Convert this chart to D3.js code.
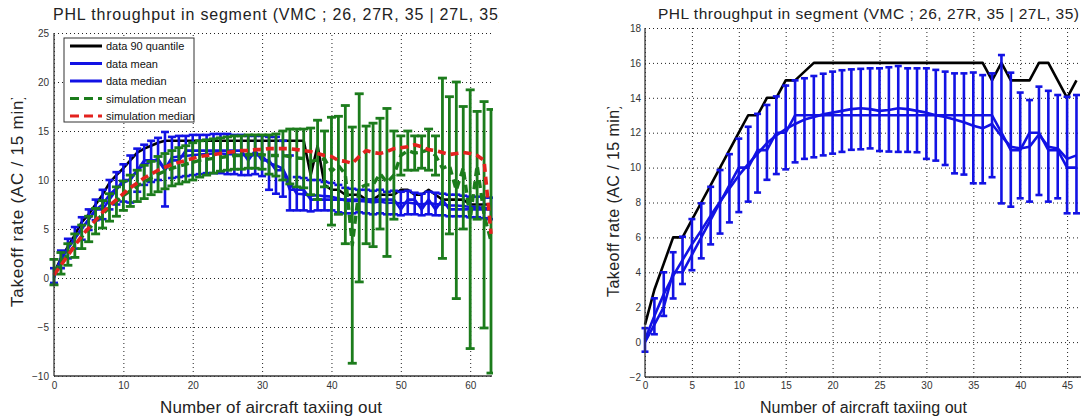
<!DOCTYPE html>
<html>
<head>
<meta charset="utf-8">
<script src="https://cdn.jsdelivr.net/npm/d3@7"></script>
<style>
  body { margin: 0; background: #fff; }
  svg { display: block; }
  text { font-family: "Liberation Sans", Arial, sans-serif; }
</style>
</head>
<body>
<svg id="fig" width="1081" height="419"></svg>
<script>
// ---------- data: left panel (0..63 aircraft taxiing out) ----------
const leftCounts = d3.range(0, 64);
const leftXTicks = [0, 10, 20, 30, 40, 50, 60];
const leftYTicks = [-10, -5, 0, 5, 10, 15, 20, 25];

const leftQ90 = [0.5,2,3.2,4.4,5.7,6.5,7.5,8.5,9.7,10.5,11.2,12,12.8,13.2,13.5,13.8,14,14,14,14,
  14,14,14,14,14,14,14,14,14,14,14,14,14,14,14,14,14,10.5,13.5,9.5,
  9,9,8.5,8.5,8.5,8,8,8.5,8.5,8.5,9,9,8.5,8.5,9,8.5,8,8,8,8,7.5,7.5,7.5,7.5];

const leftDataMean = [0.25,1.9,3.0,4.1,5.05,5.95,6.95,7.5,8.5,9.15,9.7,10.1,11.0,11.55,11.9,12.15,11.1,12.3,12.4,12.45,
  12.55,12.6,12.65,12.7,12.7,12.65,12.6,12.55,12.5,12.55,12.45,11.7,11.5,11.15,9.7,8.6,8.55,8.4,8.45,8.35,
  8.3,8.1,7.9,7.85,7.85,7.8,7.7,7.8,7.65,7.7,7.6,7.7,7.6,7.5,7.65,7.55,7.5,7.4,7.4,7.35,7.25,7.25,7.15,7.1];
const leftDataLow = [-0.5,1.0,2.0,3.0,3.9,4.9,5.9,6.0,7.0,7.5,7.8,7.7,8.8,9.5,9.8,10.0,7.3,10.2,10.3,10.4,
  10.5,10.6,10.7,10.7,10.7,10.6,10.6,10.5,10.5,10.6,10.4,9.0,8.6,8.3,6.9,6.9,6.9,6.8,6.9,6.9,
  6.9,6.7,6.6,6.6,6.7,6.6,6.5,6.6,6.5,6.5,6.4,6.5,6.5,6.4,6.5,6.4,6.4,6.3,6.3,6.3,6.2,6.2,6.1,6.0];
const leftDataHigh = [1.0,2.8,4.0,5.2,6.2,7.0,8.0,9.0,10.0,10.8,11.6,12.5,13.2,13.6,14.0,14.3,14.9,14.4,14.5,14.5,
  14.6,14.6,14.6,14.7,14.7,14.7,14.6,14.6,14.5,14.5,14.5,14.4,14.4,14.0,12.5,10.3,10.2,10.0,10.0,9.8,
  9.7,9.5,9.2,9.1,9.0,9.0,8.9,9.0,8.8,8.9,8.8,8.9,8.7,8.6,8.8,8.7,8.6,8.5,8.5,8.4,8.3,8.3,8.2,8.2];
const leftDataMedian = [0,2,3,4,5,6,7,7,8,9,10,10,11,12,12,12,11,12,12,13,
  13,13,13,13,13,13,13,13,12,13,12,12,11,11,9,9,9,8,8,8,
  8,8,8,8,8,8,8,8,8,8,7,8,8,7,8,7,8,7,7,7,7,7,7,7];

const leftSimMean = [0.6,1.5,2.4,3.3,4.2,5.0,5.8,6.5,7.2,7.8,8.4,8.9,9.4,9.8,10.2,10.6,10.9,11.2,11.4,11.6,
  11.8,12.0,12.1,12.2,12.3,12.4,12.5,12.5,12.6,12.6,12.6,12.5,12.5,12.5,12.4,12.25,12.2,11.9,12.05,12.15,
  10.9,11.5,10.55,3.35,9.2,9.5,9.5,10.65,9.75,10.5,12.5,13.0,12.75,12.85,13.1,12.5,11.2,11.5,8.95,11.25,
  6.0,11.5,6.45,3.75];
const leftSimLow = [-0.7,0.4,1.3,2.1,3.0,3.7,4.5,5.1,5.8,6.3,6.9,7.3,7.8,8.1,8.5,8.8,9.1,9.4,9.6,9.8,
  10.0,10.3,10.5,10.7,10.9,11.0,11.1,11.1,11.2,11.2,11.1,10.6,10.4,10.0,9.6,9.3,9.2,8.5,8.0,9.3,
  5.4,6.5,3.5,-8.7,-0.4,3.5,3.2,5.0,2.2,6.0,10.5,11.0,11.0,11.2,11.0,10.5,2.0,4.5,-2.1,5.0,
  -7.2,6.0,-5.1,-9.7];
const leftSimHigh = [1.9,2.6,3.5,4.5,5.4,6.3,7.1,7.9,8.6,9.3,9.9,10.5,11.0,11.5,11.9,12.4,12.7,13.0,13.3,13.5,
  13.8,14.0,14.1,14.2,14.3,14.4,14.5,14.5,14.6,14.6,14.6,14.6,14.7,15.0,15.2,15.2,15.2,15.3,16.1,15.0,
  16.4,16.5,17.6,15.4,18.8,15.5,15.8,16.3,17.3,15.0,14.5,15.0,14.5,14.5,15.2,14.5,20.4,18.5,20.0,17.5,
  19.2,17.0,18.0,17.2];
const leftSimMedian = [0.3,1.3,2.3,3.3,4.3,5.1,5.9,6.7,7.4,8.0,8.6,9.2,9.7,10.2,10.6,11.0,11.3,11.6,11.8,12.0,
  12.2,12.4,12.5,12.6,12.7,12.8,12.9,13.0,13.0,13.1,13.1,13.2,13.2,13.2,13.2,13.1,13.0,12.9,12.7,12.5,
  12.4,12.0,11.9,11.7,12.4,13.0,12.8,12.7,12.9,13.2,13.3,13.4,13.6,13.4,13.1,13.0,12.8,12.6,12.7,12.8,
  12.7,12.5,12.0,4.5];

// ---------- data: right panel (0..46 aircraft taxiing out) ----------
const rightCounts = d3.range(0, 47);
const rightXTicks = [0, 5, 10, 15, 20, 25, 30, 35, 40, 45];
const rightYTicks = [-2, 0, 2, 4, 6, 8, 10, 12, 14, 16, 18];

const rightQ90 = [1,3,4.5,6,6,7,8,9,10,11,12,13,13,14,14,15,15,15.5,16,16,
  16,16,16,16,16,16,16,16,16,16,16,16,16,16,16,16,16,15,16,15,
  15,15,16,16,15,14,15];
const rightDataMean = [0.15,1.5,2.75,3.8,4.7,5.6,6.4,7.25,8.05,8.8,9.55,10.2,10.8,11.4,11.85,12.2,12.5,12.75,12.9,13.05,
  13.15,13.25,13.35,13.4,13.35,13.25,13.3,13.4,13.35,13.25,13.15,13.0,12.9,12.75,12.6,12.4,12.25,12.5,11.8,11.2,
  11.1,11.2,11.9,11.2,11.1,10.5,10.7];
const rightDataLow = [-0.55,0.45,1.5,2.5,3.33,4.12,4.8,5.6,6.22,6.86,7.45,8.05,8.57,9.3,9.63,9.9,10.3,10.5,10.59,10.7,
  10.8,10.9,11.02,11.05,11.1,10.95,10.92,10.9,10.9,10.88,10.5,10.4,10.15,9.67,9.6,9.1,9.1,9.45,7.95,7.76,
  8.24,8.05,8.43,8.05,8.24,7.38,7.38];
const rightDataHigh = [0.8,2.51,4.0,5.15,6.04,7.05,7.95,8.9,9.86,10.77,11.66,12.34,13.08,13.59,14.08,14.7,15.0,15.12,15.25,15.38,
  15.5,15.58,15.63,15.66,15.69,15.69,15.75,15.82,15.69,15.69,15.69,15.6,15.5,15.4,15.4,15.45,15.3,15.4,16.45,15.44,
  14.3,13.87,14.64,14.4,14.16,14.06,14.16];
const rightDataMedian = [0,1,2,4,4,5,6,7,8,9,10,10,11,11,12,12,13,13,13,13,
  13,13,13,13,13,13,13,13,13,13,13,13,13,13,13,13,13,13,12,11,
  11,12,12,11,11,10,10];

const titleText = "PHL throughput in segment (VMC ; 26, 27R, 35 | 27L, 35)";
const yLabelText = "Takeoff rate (AC / 15 min)";
const xLabelText = "Number of aircraft taxiing out";
const legendLabels = ["data 90 quantile", "data mean", "data median", "simulation mean", "simulation median"];

// ---------- styling ----------
const C = { black: "#000000", blue: "#1212e4", green: "#1c7c1c", red: "#e3221e", grid: "#222", axis: "#3a3a3a", text: "#222" };

const svg = d3.select("#fig");
svg.append("rect").attr("width", 1081).attr("height", 419).attr("fill", "#fff");
const defs = svg.append("defs");

function makeClip(id, x, y, w, h) {
  defs.append("clipPath").attr("id", id).append("rect")
    .attr("x", x).attr("y", y).attr("width", w).attr("height", h);
  return `url(#${id})`;
}

function errorBars(g, x, y, xs, lo, hi, color, capW, sw) {
  const eb = g.append("g").attr("stroke", color).attr("stroke-width", sw).attr("fill", "none");
  eb.selectAll("line.stem").data(xs).join("line").attr("class", "stem")
    .attr("x1", d => x(d)).attr("x2", d => x(d))
    .attr("y1", (d, i) => y(lo[i])).attr("y2", (d, i) => y(hi[i]));
  eb.selectAll("line.capLo").data(xs).join("line").attr("class", "capLo")
    .attr("x1", d => x(d) - capW / 2).attr("x2", d => x(d) + capW / 2)
    .attr("y1", (d, i) => y(lo[i])).attr("y2", (d, i) => y(lo[i]));
  eb.selectAll("line.capHi").data(xs).join("line").attr("class", "capHi")
    .attr("x1", d => x(d) - capW / 2).attr("x2", d => x(d) + capW / 2)
    .attr("y1", (d, i) => y(hi[i])).attr("y2", (d, i) => y(hi[i]));
}

function seriesLine(g, x, y, xs, vals, color, sw, dash) {
  const line = d3.line().x((d, i) => x(xs[i])).y(d => y(d));
  g.append("path").datum(vals).attr("d", line)
    .attr("fill", "none").attr("stroke", color).attr("stroke-width", sw)
    .attr("stroke-linejoin", "round")
    .attr("stroke-dasharray", dash || null);
}

function frame(p) {
  const x = d3.scaleLinear().domain(p.xDomain).range([p.left, p.right]);
  const y = d3.scaleLinear().domain(p.yDomain).range([p.bottom, p.top]);
  const g = svg.append("g");

  // dotted grid
  g.append("g").attr("transform", `translate(0,${p.bottom})`)
    .call(d3.axisBottom(x).tickValues(p.xTicks).tickSize(-(p.bottom - p.top)).tickFormat(""))
    .call(s => {
      s.select(".domain").remove();
      s.selectAll("line").attr("stroke", C.grid).attr("stroke-width", 1).attr("stroke-dasharray", "1,3");
    });
  g.append("g").attr("transform", `translate(${p.left},0)`)
    .call(d3.axisLeft(y).tickValues(p.yTicks).tickSize(-(p.gridRight - p.left)).tickFormat(""))
    .call(s => {
      s.select(".domain").remove();
      s.selectAll("line").attr("stroke", C.grid).attr("stroke-width", 1).attr("stroke-dasharray", "1,3");
    });

  // tick labels
  g.append("g").attr("transform", `translate(0,${p.bottom})`)
    .call(d3.axisBottom(x).tickValues(p.xTicks).tickSize(0).tickPadding(p.xPad).tickFormat(d3.format("d")))
    .call(s => {
      s.select(".domain").remove();
      s.selectAll("text").attr("font-size", 10).attr("font-family", "Liberation Sans, Arial, sans-serif").attr("fill", "#333");
    });
  g.append("g").attr("transform", `translate(${p.left},0)`)
    .call(d3.axisLeft(y).tickValues(p.yTicks).tickSize(0).tickPadding(p.yPad).tickFormat(d3.format("d")))
    .call(s => {
      s.select(".domain").remove();
      s.selectAll("text").attr("font-size", 10).attr("font-family", "Liberation Sans, Arial, sans-serif").attr("fill", "#333");
    });

  const plot = g.append("g").attr("clip-path", makeClip(p.id + "-clip", p.left - 8, p.top - 6, p.clipRight - p.left + 8, p.bottom - p.top + 12));
  return { x, y, g, plot };
}

function axisLines(g, p) {
  g.append("line").attr("x1", p.left).attr("x2", p.left).attr("y1", p.top).attr("y2", p.bottom)
    .attr("stroke", C.axis).attr("stroke-width", 1.3);
  g.append("line").attr("x1", p.left).attr("x2", p.right + 1).attr("y1", p.bottom).attr("y2", p.bottom)
    .attr("stroke", C.axis).attr("stroke-width", 1.3);
}

function labels(g, p) {
  const tg = g.append("g").attr("clip-path", makeClip(p.id + "-tclip", 0, 0, p.titleClip, 40));
  tg.append("text").attr("x", p.titleX).attr("y", p.titleY)
    .attr("font-size", p.titleSize).attr("fill", C.text)
    .attr("textLength", p.titleLen).attr("lengthAdjust", "spacing")
    .text(titleText);
  g.append("text").attr("x", p.xLabelX).attr("y", 413)
    .attr("font-size", p.xLabelSize).attr("fill", C.text)
    .attr("textLength", p.xLabelLen).attr("lengthAdjust", "spacing")
    .text(xLabelText);
  const yg = g.append("g").attr("clip-path", makeClip(p.id + "-yclip", p.yLabelX - 20, p.yLabelClipTop, 30, 419));
  yg.append("text").attr("transform", `translate(${p.yLabelX},${p.yLabelStart}) rotate(-90)`)
    .attr("font-size", p.yLabelSize).attr("fill", C.text)
    .attr("textLength", p.yLabelLen).attr("lengthAdjust", "spacing")
    .text(yLabelText);
}

// ---------- left panel ----------
const PL = {
  id: "left", xDomain: [0, 63], yDomain: [-10, 25],
  left: 54, right: 491, top: 33, bottom: 376, gridRight: 491, clipRight: 493,
  xTicks: leftXTicks, yTicks: leftYTicks, xPad: 6, yPad: 5,
  titleX: 53, titleY: 20, titleSize: 16, titleLen: 451, titleClip: 499,
  xLabelX: 160, xLabelSize: 17, xLabelLen: 222,
  yLabelX: 23, yLabelStart: 307, yLabelSize: 17, yLabelLen: 213, yLabelClipTop: 98
};
const L = frame(PL);
seriesLine(L.plot, L.x, L.y, leftCounts, leftQ90, C.black, 2.6);
errorBars(L.plot, L.x, L.y, leftCounts, leftDataLow, leftDataHigh, C.blue, 8, 2.6);
seriesLine(L.plot, L.x, L.y, leftCounts, leftDataMean, C.blue, 2.6);
seriesLine(L.plot, L.x, L.y, leftCounts, leftDataMedian, C.blue, 2.6);
errorBars(L.plot, L.x, L.y, leftCounts, leftSimLow, leftSimHigh, C.green, 9, 2.8);
seriesLine(L.plot, L.x, L.y, leftCounts, leftSimMean, C.green, 3.4, "8,5");
seriesLine(L.plot, L.x, L.y, leftCounts, leftSimMedian, C.red, 3.6, "8,5");
axisLines(L.g, PL);
labels(L.g, PL);

// legend
const legend = L.g.append("g");
legend.append("rect").attr("x", 64).attr("y", 38).attr("width", 130).attr("height", 84)
  .attr("fill", "#fff").attr("stroke", "#333").attr("stroke-width", 1);
const legendStyles = [
  { color: C.black, dash: null },
  { color: C.blue, dash: null },
  { color: C.blue, dash: null },
  { color: C.green, dash: "9,5" },
  { color: C.red, dash: "9,5" }
];
const legendRow = d3.scaleLinear().domain([0, 4]).range([46, 116]);
legendLabels.forEach((lab, i) => {
  const yy = legendRow(i);
  legend.append("line").attr("x1", 70).attr("x2", 102).attr("y1", yy).attr("y2", yy)
    .attr("stroke", legendStyles[i].color).attr("stroke-width", 3)
    .attr("stroke-dasharray", legendStyles[i].dash);
  legend.append("text").attr("x", 106).attr("y", yy + 4).attr("font-size", 11).attr("fill", "#111").text(lab);
});

// ---------- right panel ----------
const PR = {
  id: "right", xDomain: [0, 50], yDomain: [-2, 18],
  left: 645, right: 1114, top: 28, bottom: 377, gridRight: 1114, clipRight: 1114,
  xTicks: rightXTicks, yTicks: rightYTicks, xPad: 5, yPad: 4,
  titleX: 658, titleY: 18.5, titleSize: 15.5, titleLen: 421, titleClip: 1081,
  xLabelX: 760, xLabelSize: 16, xLabelLen: 207,
  yLabelX: 619, yLabelStart: 297, yLabelSize: 16, yLabelLen: 193, yLabelClipTop: 107
};
const R = frame(PR);
seriesLine(R.plot, R.x, R.y, rightCounts, rightQ90, C.black, 2.6);
errorBars(R.plot, R.x, R.y, rightCounts, rightDataLow, rightDataHigh, C.blue, 7, 2.6);
seriesLine(R.plot, R.x, R.y, rightCounts, rightDataMean, C.blue, 2.6);
seriesLine(R.plot, R.x, R.y, rightCounts, rightDataMedian, C.blue, 2.6);
axisLines(R.g, PR);
labels(R.g, PR);
</script>
</body>
</html>
